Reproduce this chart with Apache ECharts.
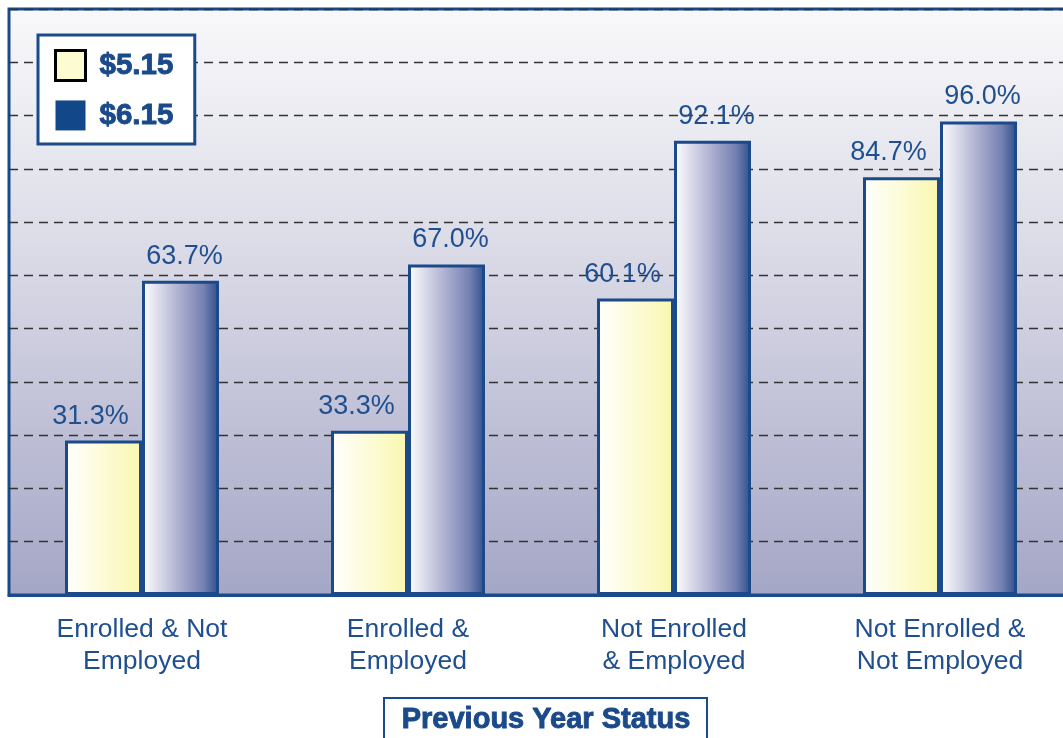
<!DOCTYPE html>
<html><head><meta charset="utf-8">
<script src="https://cdn.jsdelivr.net/npm/echarts@6/dist/echarts.min.js"></script>
<style>html,body{margin:0;padding:0;background:#fff}#c{width:1063px;height:738px}</style>
</head><body><div id="c"></div>
<script>
const categories = ['Enrolled & Not\nEmployed', 'Enrolled &\nEmployed', 'Not Enrolled\n& Employed', 'Not Enrolled &\nNot Employed'];
const seriesNames = ['$5.15', '$6.15'];
const values515 = [31.3, 33.3, 60.1, 84.7];
const values615 = [63.7, 67.0, 92.1, 96.0];
const axisTitle = 'Previous Year Status';

const BLUE = '#1b4a8a';
const FONT = '"Liberation Sans", Arial, Helvetica, sans-serif';
const chart = echarts.init(document.getElementById('c'));
const lbl = (off) => ({
  show: true, position: 'top', distance: 11, offset: off,
  formatter: p => p.value.toFixed(1) + '%',
  color: '#1f4f8f', fontSize: 27, fontFamily: FONT
});
chart.setOption({
  animation: false,
  backgroundColor: '#ffffff',
  grid: {
    left: 9, top: 9, bottom: 143, width: 1064,
    outerBoundsMode: 'none', containLabel: false,
    show: true, borderColor: BLUE, borderWidth: 3,
    backgroundColor: new echarts.graphic.LinearGradient(0, 0, 0, 1, [
      {offset: 0, color: '#f9f9fb'},
      {offset: 0.4, color: '#dcdce8'},
      {offset: 1, color: '#a4a6c6'}
    ])
  },
  legend: {
    orient: 'vertical', left: 38, top: 35,
    backgroundColor: '#ffffff', borderColor: BLUE, borderWidth: 3,
    padding: [14, 21, 13, 16], itemGap: 18, itemWidth: 30, itemHeight: 30,
    textStyle: {color: BLUE, fontSize: 29.5, fontWeight: 'bold', fontFamily: FONT,
      textBorderColor: BLUE, textBorderWidth: 0.9, padding: [0, 0, 0, 9]},
    data: [
      {name: seriesNames[0], icon: 'rect', itemStyle: {color: '#fdfbd2', borderColor: '#000', borderWidth: 3}},
      {name: seriesNames[1], icon: 'rect', itemStyle: {color: '#12478a', borderWidth: 0}}
    ]
  },
  xAxis: {
    type: 'category', data: categories,
    axisLine: {show: true, lineStyle: {color: BLUE, width: 3}},
    axisTick: {show: false},
    axisLabel: {color: '#1f4f8f', fontSize: 26.5, fontFamily: FONT, lineHeight: 32, margin: 19, interval: 0}
  },
  yAxis: {
    type: 'value', min: 0, max: 118.8, interval: 10.8,
    axisLine: {show: false}, axisTick: {show: false}, axisLabel: {show: false},
    splitLine: {show: true, lineStyle: {color: '#333333', width: 1.4, type: [9, 6]}}
  },
  series: [
    {
      name: seriesNames[0], type: 'bar', data: values515,
      barWidth: 77, barGap: '0%',
      itemStyle: {
        borderColor: BLUE, borderWidth: 3,
        color: new echarts.graphic.LinearGradient(0, 0, 1, 0, [
          {offset: 0, color: '#ffffff'}, {offset: 1, color: '#faf7ae'}
        ])
      },
      label: lbl([-13, 0])
    },
    {
      name: seriesNames[1], type: 'bar', data: values615,
      barWidth: 77,
      itemStyle: {
        borderColor: BLUE, borderWidth: 3,
        color: new echarts.graphic.LinearGradient(0, 0, 1, 0, [
          {offset: 0, color: '#ffffff'}, {offset: 0.45, color: '#b3b5d3'},
          {offset: 0.8, color: '#7581b2'}, {offset: 1, color: '#2e4d8c'}
        ])
      },
      label: lbl([4, 0])
    }
  ],
  graphic: [
    {type: 'rect', left: 383, top: 697, shape: {width: 323, height: 60},
     style: {fill: '#ffffff', stroke: BLUE, lineWidth: 2}},
    {type: 'text', x: 546, y: 720,
     style: {text: axisTitle, fill: BLUE, font: 'bold 29px ' + FONT, align: 'center', verticalAlign: 'middle',
       stroke: BLUE, lineWidth: 0.9}}
  ]
});
</script></body></html>
